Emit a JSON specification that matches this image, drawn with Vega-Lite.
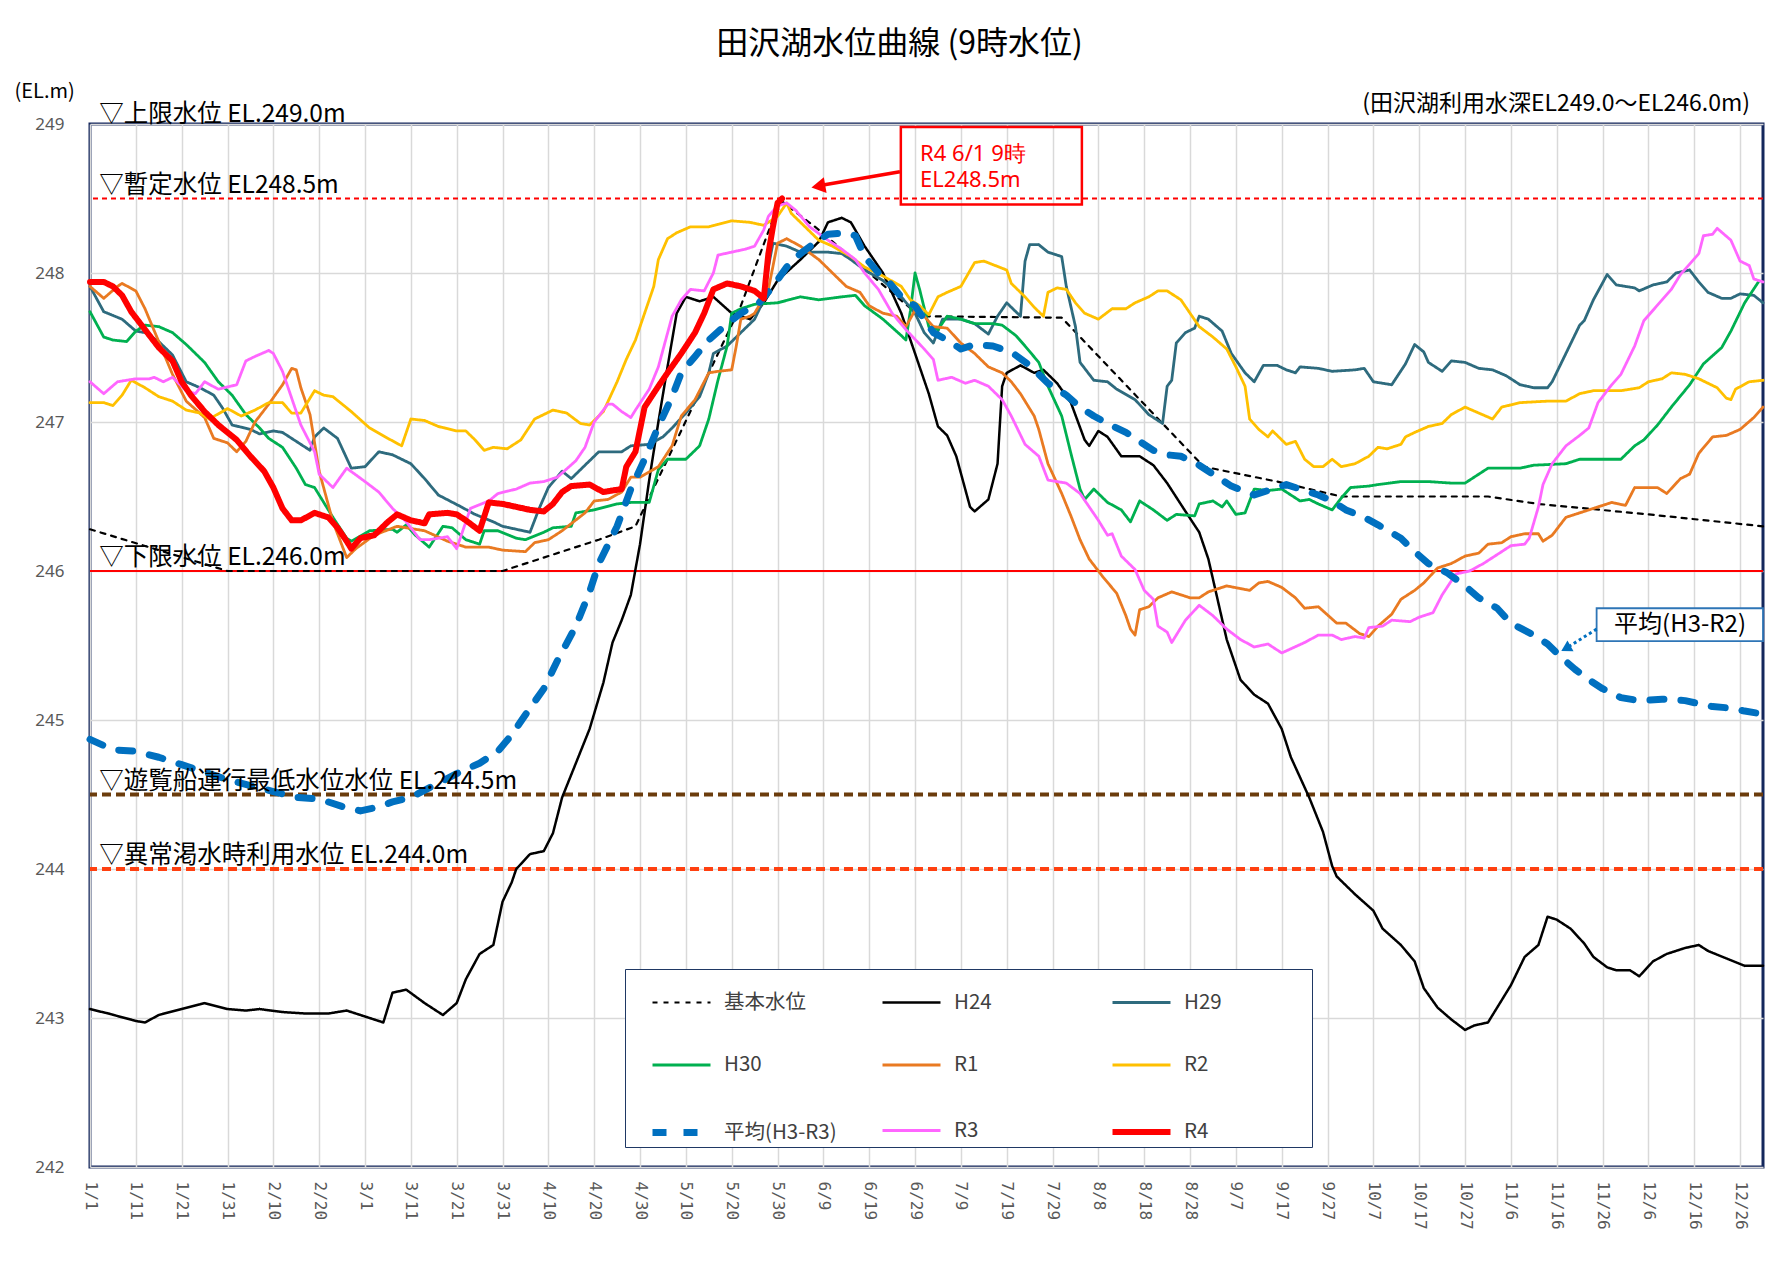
{
"$schema": "https://vega.github.io/schema/vega-lite/v6.json",
"width": 1673,
"height": 1043,
"autosize": {"type": "none"},
"padding": {"left": 90, "top": 124, "right": 23, "bottom": 120},
"background": "white",
"title": {"text": "田沢湖水位曲線 (9時水位)", "anchor": "middle", "frame": "group", "dx": -27, "offset": -5, "baseline": "alphabetic", "fontSize": 32, "fontWeight": "normal", "color": "#000000", "font": "Noto Sans CJK JP"},
"config": {
  "font": "Noto Sans CJK JP",
  "view": {"stroke": "#14275c", "strokeWidth": 3},
  "legend": {"orient": "none", "legendX": 535, "legendY": 845, "direction": "horizontal", "columns": 3, "gridAlign": "all", "symbolType": "stroke", "symbolSize": 3364, "symbolOffset": 24, "labelFontSize": 20.5, "labelColor": "#404040", "labelOffset": 10, "columnPadding": 3, "rowPadding": 18.5, "padding": 0, "strokeColor": "#1f3864", "fillColor": "white", "labelFont": "Noto Sans CJK JP", "labelLimit": 400}
},
"datasets": {
"levels": [
{"series":"基本水位","day":0,"level":246.28},{"series":"基本水位","day":30,"level":246.0},{"series":"基本水位","day":90,"level":246.0},{"series":"基本水位","day":111,"level":246.21},{"series":"基本水位","day":119,"level":246.3},{"series":"基本水位","day":126,"level":246.75},{"series":"基本水位","day":133,"level":247.2},{"series":"基本水位","day":142,"level":247.78},{"series":"基本水位","day":149,"level":248.36},{"series":"基本水位","day":151,"level":248.48},{"series":"基本水位","day":159,"level":248.29},{"series":"基本水位","day":181,"level":247.71},{"series":"基本水位","day":212,"level":247.7},{"series":"基本水位","day":234,"level":246.99},{"series":"基本水位","day":243,"level":246.7},{"series":"基本水位","day":259,"level":246.6},{"series":"基本水位","day":273,"level":246.5},{"series":"基本水位","day":305,"level":246.5},{"series":"基本水位","day":316,"level":246.45},{"series":"基本水位","day":340,"level":246.38},{"series":"基本水位","day":365,"level":246.3},

{"series":"H24","day":0,"level":243.06},{"series":"H24","day":4,"level":243.03},{"series":"H24","day":10,"level":242.98},{"series":"H24","day":12,"level":242.97},{"series":"H24","day":15,"level":243.02},{"series":"H24","day":20,"level":243.06},{"series":"H24","day":25,"level":243.1},{"series":"H24","day":30,"level":243.06},{"series":"H24","day":34,"level":243.05},{"series":"H24","day":37,"level":243.06},{"series":"H24","day":42,"level":243.04},{"series":"H24","day":47,"level":243.03},{"series":"H24","day":52,"level":243.03},{"series":"H24","day":56,"level":243.05},{"series":"H24","day":60,"level":243.01},{"series":"H24","day":64,"level":242.97},{"series":"H24","day":66,"level":243.17},{"series":"H24","day":69,"level":243.19},{"series":"H24","day":73,"level":243.1},{"series":"H24","day":77,"level":243.02},{"series":"H24","day":80,"level":243.1},{"series":"H24","day":82,"level":243.26},{"series":"H24","day":85,"level":243.43},{"series":"H24","day":88,"level":243.49},{"series":"H24","day":90,"level":243.78},{"series":"H24","day":92,"level":243.91},{"series":"H24","day":93,"level":244.0},{"series":"H24","day":96,"level":244.1},{"series":"H24","day":99,"level":244.12},{"series":"H24","day":101,"level":244.24},{"series":"H24","day":103,"level":244.48},{"series":"H24","day":106,"level":244.71},{"series":"H24","day":109,"level":244.94},{"series":"H24","day":112,"level":245.25},{"series":"H24","day":114,"level":245.52},{"series":"H24","day":116,"level":245.67},{"series":"H24","day":118,"level":245.84},{"series":"H24","day":120,"level":246.18},{"series":"H24","day":122,"level":246.61},{"series":"H24","day":124,"level":247.0},{"series":"H24","day":126,"level":247.37},{"series":"H24","day":128,"level":247.73},{"series":"H24","day":130,"level":247.84},{"series":"H24","day":133,"level":247.81},{"series":"H24","day":136,"level":247.84},{"series":"H24","day":140,"level":247.73},{"series":"H24","day":144,"level":247.69},{"series":"H24","day":147,"level":247.8},{"series":"H24","day":150,"level":247.95},{"series":"H24","day":155,"level":248.09},{"series":"H24","day":159,"level":248.21},{"series":"H24","day":161,"level":248.34},{"series":"H24","day":164,"level":248.37},{"series":"H24","day":166,"level":248.34},{"series":"H24","day":169,"level":248.18},{"series":"H24","day":173,"level":248.0},{"series":"H24","day":177,"level":247.73},{"series":"H24","day":180,"level":247.46},{"series":"H24","day":183,"level":247.19},{"series":"H24","day":185,"level":246.97},{"series":"H24","day":187,"level":246.91},{"series":"H24","day":189,"level":246.77},{"series":"H24","day":192,"level":246.43},{"series":"H24","day":193,"level":246.4},{"series":"H24","day":196,"level":246.48},{"series":"H24","day":198,"level":246.72},{"series":"H24","day":199,"level":247.24},{"series":"H24","day":200,"level":247.33},{"series":"H24","day":203,"level":247.38},{"series":"H24","day":206,"level":247.33},{"series":"H24","day":208,"level":247.35},{"series":"H24","day":211,"level":247.26},{"series":"H24","day":214,"level":247.13},{"series":"H24","day":217,"level":246.88},{"series":"H24","day":218,"level":246.84},{"series":"H24","day":220,"level":246.94},{"series":"H24","day":222,"level":246.9},{"series":"H24","day":225,"level":246.77},{"series":"H24","day":229,"level":246.77},{"series":"H24","day":232,"level":246.71},{"series":"H24","day":235,"level":246.59},{"series":"H24","day":239,"level":246.4},{"series":"H24","day":242,"level":246.26},{"series":"H24","day":244,"level":246.08},{"series":"H24","day":246,"level":245.81},{"series":"H24","day":248,"level":245.54},{"series":"H24","day":251,"level":245.27},{"series":"H24","day":254,"level":245.17},{"series":"H24","day":257,"level":245.11},{"series":"H24","day":260,"level":244.94},{"series":"H24","day":262,"level":244.75},{"series":"H24","day":266,"level":244.48},{"series":"H24","day":269,"level":244.25},{"series":"H24","day":271,"level":244.02},{"series":"H24","day":272,"level":243.95},{"series":"H24","day":276,"level":243.83},{"series":"H24","day":280,"level":243.72},{"series":"H24","day":282,"level":243.6},{"series":"H24","day":286,"level":243.49},{"series":"H24","day":289,"level":243.38},{"series":"H24","day":291,"level":243.2},{"series":"H24","day":294,"level":243.07},{"series":"H24","day":297,"level":242.99},{"series":"H24","day":300,"level":242.92},{"series":"H24","day":302,"level":242.95},{"series":"H24","day":305,"level":242.97},{"series":"H24","day":307,"level":243.07},{"series":"H24","day":310,"level":243.22},{"series":"H24","day":313,"level":243.41},{"series":"H24","day":316,"level":243.49},{"series":"H24","day":318,"level":243.68},{"series":"H24","day":320,"level":243.66},{"series":"H24","day":323,"level":243.6},{"series":"H24","day":326,"level":243.5},{"series":"H24","day":328,"level":243.41},{"series":"H24","day":331,"level":243.34},{"series":"H24","day":333,"level":243.32},{"series":"H24","day":336,"level":243.32},{"series":"H24","day":338,"level":243.28},{"series":"H24","day":341,"level":243.38},{"series":"H24","day":344,"level":243.43},{"series":"H24","day":348,"level":243.47},{"series":"H24","day":351,"level":243.49},{"series":"H24","day":353,"level":243.45},{"series":"H24","day":357,"level":243.4},{"series":"H24","day":361,"level":243.35},{"series":"H24","day":365,"level":243.35},

{"series":"H29","day":0,"level":247.91},{"series":"H29","day":3,"level":247.74},{"series":"H29","day":7,"level":247.69},{"series":"H29","day":10,"level":247.61},{"series":"H29","day":12,"level":247.6},{"series":"H29","day":15,"level":247.54},{"series":"H29","day":18,"level":247.45},{"series":"H29","day":21,"level":247.27},{"series":"H29","day":24,"level":247.23},{"series":"H29","day":27,"level":247.18},{"series":"H29","day":29,"level":247.09},{"series":"H29","day":31,"level":246.98},{"series":"H29","day":35,"level":246.95},{"series":"H29","day":37,"level":246.92},{"series":"H29","day":40,"level":246.94},{"series":"H29","day":42,"level":246.93},{"series":"H29","day":45,"level":246.87},{"series":"H29","day":48,"level":246.81},{"series":"H29","day":49,"level":246.9},{"series":"H29","day":51,"level":246.96},{"series":"H29","day":54,"level":246.89},{"series":"H29","day":57,"level":246.69},{"series":"H29","day":60,"level":246.7},{"series":"H29","day":63,"level":246.8},{"series":"H29","day":66,"level":246.78},{"series":"H29","day":70,"level":246.72},{"series":"H29","day":73,"level":246.62},{"series":"H29","day":76,"level":246.51},{"series":"H29","day":81,"level":246.43},{"series":"H29","day":84,"level":246.38},{"series":"H29","day":88,"level":246.33},{"series":"H29","day":90,"level":246.3},{"series":"H29","day":96,"level":246.26},{"series":"H29","day":98,"level":246.42},{"series":"H29","day":100,"level":246.56},{"series":"H29","day":103,"level":246.67},{"series":"H29","day":105,"level":246.62},{"series":"H29","day":109,"level":246.74},{"series":"H29","day":111,"level":246.8},{"series":"H29","day":116,"level":246.8},{"series":"H29","day":118,"level":246.84},{"series":"H29","day":122,"level":246.85},{"series":"H29","day":125,"level":246.9},{"series":"H29","day":127,"level":246.96},{"series":"H29","day":130,"level":247.06},{"series":"H29","day":133,"level":247.17},{"series":"H29","day":135,"level":247.33},{"series":"H29","day":136,"level":247.46},{"series":"H29","day":139,"level":247.51},{"series":"H29","day":142,"level":247.6},{"series":"H29","day":145,"level":247.69},{"series":"H29","day":147,"level":247.82},{"series":"H29","day":148,"level":248.04},{"series":"H29","day":149,"level":248.2},{"series":"H29","day":152,"level":248.18},{"series":"H29","day":155,"level":248.14},{"series":"H29","day":158,"level":248.14},{"series":"H29","day":161,"level":248.14},{"series":"H29","day":164,"level":248.13},{"series":"H29","day":166,"level":248.09},{"series":"H29","day":169,"level":248.02},{"series":"H29","day":173,"level":247.95},{"series":"H29","day":177,"level":247.84},{"series":"H29","day":180,"level":247.73},{"series":"H29","day":182,"level":247.6},{"series":"H29","day":184,"level":247.53},{"series":"H29","day":186,"level":247.69},{"series":"H29","day":190,"level":247.69},{"series":"H29","day":193,"level":247.66},{"series":"H29","day":196,"level":247.59},{"series":"H29","day":198,"level":247.71},{"series":"H29","day":200,"level":247.8},{"series":"H29","day":203,"level":247.71},{"series":"H29","day":204,"level":248.08},{"series":"H29","day":205,"level":248.19},{"series":"H29","day":207,"level":248.19},{"series":"H29","day":209,"level":248.14},{"series":"H29","day":212,"level":248.11},{"series":"H29","day":213,"level":247.91},{"series":"H29","day":215,"level":247.64},{"series":"H29","day":216,"level":247.4},{"series":"H29","day":219,"level":247.28},{"series":"H29","day":222,"level":247.27},{"series":"H29","day":224,"level":247.22},{"series":"H29","day":228,"level":247.15},{"series":"H29","day":231,"level":247.05},{"series":"H29","day":234,"level":246.99},{"series":"H29","day":235,"level":247.24},{"series":"H29","day":236,"level":247.28},{"series":"H29","day":237,"level":247.53},{"series":"H29","day":239,"level":247.6},{"series":"H29","day":241,"level":247.63},{"series":"H29","day":242,"level":247.71},{"series":"H29","day":244,"level":247.69},{"series":"H29","day":247,"level":247.61},{"series":"H29","day":249,"level":247.46},{"series":"H29","day":252,"level":247.33},{"series":"H29","day":254,"level":247.27},{"series":"H29","day":256,"level":247.38},{"series":"H29","day":259,"level":247.38},{"series":"H29","day":261,"level":247.35},{"series":"H29","day":263,"level":247.33},{"series":"H29","day":264,"level":247.37},{"series":"H29","day":268,"level":247.36},{"series":"H29","day":271,"level":247.34},{"series":"H29","day":276,"level":247.35},{"series":"H29","day":278,"level":247.36},{"series":"H29","day":280,"level":247.27},{"series":"H29","day":284,"level":247.25},{"series":"H29","day":287,"level":247.39},{"series":"H29","day":289,"level":247.52},{"series":"H29","day":291,"level":247.47},{"series":"H29","day":292,"level":247.4},{"series":"H29","day":295,"level":247.34},{"series":"H29","day":297,"level":247.41},{"series":"H29","day":300,"level":247.4},{"series":"H29","day":303,"level":247.36},{"series":"H29","day":306,"level":247.35},{"series":"H29","day":309,"level":247.31},{"series":"H29","day":312,"level":247.25},{"series":"H29","day":315,"level":247.23},{"series":"H29","day":318,"level":247.23},{"series":"H29","day":319,"level":247.27},{"series":"H29","day":322,"level":247.46},{"series":"H29","day":325,"level":247.65},{"series":"H29","day":326,"level":247.68},{"series":"H29","day":328,"level":247.82},{"series":"H29","day":331,"level":247.99},{"series":"H29","day":333,"level":247.92},{"series":"H29","day":337,"level":247.9},{"series":"H29","day":338,"level":247.88},{"series":"H29","day":341,"level":247.92},{"series":"H29","day":344,"level":247.94},{"series":"H29","day":346,"level":248.0},{"series":"H29","day":349,"level":248.02},{"series":"H29","day":351,"level":247.94},{"series":"H29","day":353,"level":247.87},{"series":"H29","day":356,"level":247.83},{"series":"H29","day":358,"level":247.83},{"series":"H29","day":360,"level":247.86},{"series":"H29","day":363,"level":247.85},{"series":"H29","day":365,"level":247.8},

{"series":"H30","day":0,"level":247.74},{"series":"H30","day":3,"level":247.57},{"series":"H30","day":5,"level":247.55},{"series":"H30","day":8,"level":247.54},{"series":"H30","day":10,"level":247.61},{"series":"H30","day":12,"level":247.65},{"series":"H30","day":15,"level":247.64},{"series":"H30","day":18,"level":247.6},{"series":"H30","day":21,"level":247.52},{"series":"H30","day":25,"level":247.4},{"series":"H30","day":28,"level":247.27},{"series":"H30","day":31,"level":247.18},{"series":"H30","day":34,"level":247.05},{"series":"H30","day":37,"level":246.96},{"series":"H30","day":39,"level":246.89},{"series":"H30","day":42,"level":246.83},{"series":"H30","day":45,"level":246.69},{"series":"H30","day":47,"level":246.58},{"series":"H30","day":49,"level":246.56},{"series":"H30","day":53,"level":246.36},{"series":"H30","day":56,"level":246.22},{"series":"H30","day":57,"level":246.2},{"series":"H30","day":61,"level":246.27},{"series":"H30","day":66,"level":246.28},{"series":"H30","day":67,"level":246.26},{"series":"H30","day":69,"level":246.31},{"series":"H30","day":71,"level":246.24},{"series":"H30","day":74,"level":246.16},{"series":"H30","day":77,"level":246.3},{"series":"H30","day":79,"level":246.29},{"series":"H30","day":82,"level":246.21},{"series":"H30","day":85,"level":246.18},{"series":"H30","day":86,"level":246.27},{"series":"H30","day":89,"level":246.27},{"series":"H30","day":93,"level":246.22},{"series":"H30","day":95,"level":246.21},{"series":"H30","day":99,"level":246.26},{"series":"H30","day":101,"level":246.29},{"series":"H30","day":105,"level":246.3},{"series":"H30","day":106,"level":246.39},{"series":"H30","day":110,"level":246.41},{"series":"H30","day":115,"level":246.45},{"series":"H30","day":118,"level":246.46},{"series":"H30","day":122,"level":246.46},{"series":"H30","day":124,"level":246.68},{"series":"H30","day":126,"level":246.75},{"series":"H30","day":130,"level":246.75},{"series":"H30","day":133,"level":246.84},{"series":"H30","day":135,"level":247.02},{"series":"H30","day":137,"level":247.28},{"series":"H30","day":139,"level":247.51},{"series":"H30","day":140,"level":247.73},{"series":"H30","day":142,"level":247.76},{"series":"H30","day":145,"level":247.79},{"series":"H30","day":150,"level":247.8},{"series":"H30","day":155,"level":247.84},{"series":"H30","day":159,"level":247.82},{"series":"H30","day":164,"level":247.84},{"series":"H30","day":167,"level":247.85},{"series":"H30","day":169,"level":247.78},{"series":"H30","day":173,"level":247.69},{"series":"H30","day":177,"level":247.58},{"series":"H30","day":178,"level":247.55},{"series":"H30","day":179,"level":247.75},{"series":"H30","day":180,"level":248.0},{"series":"H30","day":181,"level":247.89},{"series":"H30","day":183,"level":247.64},{"series":"H30","day":185,"level":247.62},{"series":"H30","day":187,"level":247.71},{"series":"H30","day":190,"level":247.69},{"series":"H30","day":193,"level":247.66},{"series":"H30","day":197,"level":247.66},{"series":"H30","day":199,"level":247.65},{"series":"H30","day":202,"level":247.58},{"series":"H30","day":204,"level":247.51},{"series":"H30","day":207,"level":247.4},{"series":"H30","day":209,"level":247.24},{"series":"H30","day":212,"level":247.04},{"series":"H30","day":214,"level":246.79},{"series":"H30","day":216,"level":246.55},{"series":"H30","day":217,"level":246.48},{"series":"H30","day":219,"level":246.55},{"series":"H30","day":222,"level":246.46},{"series":"H30","day":225,"level":246.41},{"series":"H30","day":227,"level":246.33},{"series":"H30","day":229,"level":246.47},{"series":"H30","day":232,"level":246.41},{"series":"H30","day":235,"level":246.34},{"series":"H30","day":237,"level":246.38},{"series":"H30","day":241,"level":246.37},{"series":"H30","day":242,"level":246.45},{"series":"H30","day":245,"level":246.47},{"series":"H30","day":247,"level":246.43},{"series":"H30","day":248,"level":246.47},{"series":"H30","day":250,"level":246.38},{"series":"H30","day":252,"level":246.39},{"series":"H30","day":254,"level":246.55},{"series":"H30","day":257,"level":246.54},{"series":"H30","day":260,"level":246.55},{"series":"H30","day":264,"level":246.47},{"series":"H30","day":266,"level":246.48},{"series":"H30","day":268,"level":246.45},{"series":"H30","day":271,"level":246.41},{"series":"H30","day":273,"level":246.49},{"series":"H30","day":275,"level":246.56},{"series":"H30","day":279,"level":246.57},{"series":"H30","day":281,"level":246.58},{"series":"H30","day":286,"level":246.6},{"series":"H30","day":292,"level":246.6},{"series":"H30","day":297,"level":246.59},{"series":"H30","day":300,"level":246.59},{"series":"H30","day":303,"level":246.65},{"series":"H30","day":305,"level":246.69},{"series":"H30","day":312,"level":246.69},{"series":"H30","day":315,"level":246.71},{"series":"H30","day":322,"level":246.72},{"series":"H30","day":325,"level":246.75},{"series":"H30","day":334,"level":246.75},{"series":"H30","day":337,"level":246.84},{"series":"H30","day":339,"level":246.88},{"series":"H30","day":342,"level":246.98},{"series":"H30","day":345,"level":247.1},{"series":"H30","day":349,"level":247.25},{"series":"H30","day":352,"level":247.39},{"series":"H30","day":356,"level":247.5},{"series":"H30","day":358,"level":247.61},{"series":"H30","day":361,"level":247.8},{"series":"H30","day":364,"level":247.94},

{"series":"R1","day":0,"level":247.91},{"series":"R1","day":3,"level":247.83},{"series":"R1","day":6,"level":247.91},{"series":"R1","day":7,"level":247.93},{"series":"R1","day":10,"level":247.88},{"series":"R1","day":12,"level":247.76},{"series":"R1","day":15,"level":247.54},{"series":"R1","day":18,"level":247.32},{"series":"R1","day":21,"level":247.14},{"series":"R1","day":25,"level":247.03},{"series":"R1","day":27,"level":246.89},{"series":"R1","day":30,"level":246.86},{"series":"R1","day":32,"level":246.8},{"series":"R1","day":34,"level":246.87},{"series":"R1","day":36,"level":247.0},{"series":"R1","day":39,"level":247.12},{"series":"R1","day":42,"level":247.25},{"series":"R1","day":44,"level":247.36},{"series":"R1","day":45,"level":247.35},{"series":"R1","day":46,"level":247.23},{"series":"R1","day":48,"level":247.05},{"series":"R1","day":50,"level":246.67},{"series":"R1","day":53,"level":246.33},{"series":"R1","day":56,"level":246.09},{"series":"R1","day":58,"level":246.15},{"series":"R1","day":62,"level":246.24},{"series":"R1","day":67,"level":246.3},{"series":"R1","day":73,"level":246.27},{"series":"R1","day":78,"level":246.2},{"series":"R1","day":82,"level":246.16},{"series":"R1","day":87,"level":246.16},{"series":"R1","day":90,"level":246.14},{"series":"R1","day":95,"level":246.13},{"series":"R1","day":97,"level":246.19},{"series":"R1","day":100,"level":246.21},{"series":"R1","day":103,"level":246.27},{"series":"R1","day":108,"level":246.39},{"series":"R1","day":110,"level":246.47},{"series":"R1","day":113,"level":246.48},{"series":"R1","day":116,"level":246.53},{"series":"R1","day":118,"level":246.63},{"series":"R1","day":120,"level":246.63},{"series":"R1","day":124,"level":246.7},{"series":"R1","day":127,"level":246.84},{"series":"R1","day":129,"level":247.04},{"series":"R1","day":132,"level":247.15},{"series":"R1","day":135,"level":247.33},{"series":"R1","day":137,"level":247.34},{"series":"R1","day":140,"level":247.35},{"series":"R1","day":141,"level":247.51},{"series":"R1","day":142,"level":247.69},{"series":"R1","day":144,"level":247.71},{"series":"R1","day":145,"level":247.73},{"series":"R1","day":148,"level":247.89},{"series":"R1","day":150,"level":248.2},{"series":"R1","day":152,"level":248.23},{"series":"R1","day":155,"level":248.18},{"series":"R1","day":159,"level":248.09},{"series":"R1","day":162,"level":248.0},{"series":"R1","day":165,"level":247.91},{"series":"R1","day":168,"level":247.87},{"series":"R1","day":170,"level":247.78},{"series":"R1","day":173,"level":247.73},{"series":"R1","day":176,"level":247.71},{"series":"R1","day":178,"level":247.64},{"series":"R1","day":180,"level":247.75},{"series":"R1","day":182,"level":247.71},{"series":"R1","day":184,"level":247.64},{"series":"R1","day":187,"level":247.63},{"series":"R1","day":190,"level":247.53},{"series":"R1","day":193,"level":247.46},{"series":"R1","day":196,"level":247.37},{"series":"R1","day":199,"level":247.33},{"series":"R1","day":201,"level":247.27},{"series":"R1","day":203,"level":247.19},{"series":"R1","day":206,"level":247.04},{"series":"R1","day":207,"level":246.95},{"series":"R1","day":209,"level":246.72},{"series":"R1","day":212,"level":246.52},{"series":"R1","day":214,"level":246.37},{"series":"R1","day":216,"level":246.21},{"series":"R1","day":218,"level":246.08},{"series":"R1","day":221,"level":245.96},{"series":"R1","day":224,"level":245.85},{"series":"R1","day":226,"level":245.7},{"series":"R1","day":227,"level":245.61},{"series":"R1","day":228,"level":245.57},{"series":"R1","day":229,"level":245.74},{"series":"R1","day":231,"level":245.76},{"series":"R1","day":233,"level":245.82},{"series":"R1","day":236,"level":245.86},{"series":"R1","day":240,"level":245.82},{"series":"R1","day":242,"level":245.82},{"series":"R1","day":244,"level":245.86},{"series":"R1","day":248,"level":245.9},{"series":"R1","day":253,"level":245.87},{"series":"R1","day":255,"level":245.92},{"series":"R1","day":257,"level":245.93},{"series":"R1","day":260,"level":245.89},{"series":"R1","day":263,"level":245.82},{"series":"R1","day":265,"level":245.75},{"series":"R1","day":268,"level":245.76},{"series":"R1","day":272,"level":245.65},{"series":"R1","day":274,"level":245.65},{"series":"R1","day":277,"level":245.58},{"series":"R1","day":279,"level":245.56},{"series":"R1","day":281,"level":245.63},{"series":"R1","day":284,"level":245.71},{"series":"R1","day":286,"level":245.81},{"series":"R1","day":289,"level":245.87},{"series":"R1","day":291,"level":245.92},{"series":"R1","day":294,"level":246.02},{"series":"R1","day":297,"level":246.05},{"series":"R1","day":300,"level":246.1},{"series":"R1","day":303,"level":246.12},{"series":"R1","day":305,"level":246.18},{"series":"R1","day":308,"level":246.19},{"series":"R1","day":310,"level":246.23},{"series":"R1","day":313,"level":246.25},{"series":"R1","day":316,"level":246.25},{"series":"R1","day":317,"level":246.2},{"series":"R1","day":319,"level":246.24},{"series":"R1","day":322,"level":246.36},{"series":"R1","day":325,"level":246.39},{"series":"R1","day":329,"level":246.43},{"series":"R1","day":332,"level":246.46},{"series":"R1","day":335,"level":246.44},{"series":"R1","day":337,"level":246.56},{"series":"R1","day":342,"level":246.56},{"series":"R1","day":344,"level":246.52},{"series":"R1","day":347,"level":246.62},{"series":"R1","day":349,"level":246.65},{"series":"R1","day":351,"level":246.79},{"series":"R1","day":354,"level":246.9},{"series":"R1","day":357,"level":246.91},{"series":"R1","day":360,"level":246.95},{"series":"R1","day":363,"level":247.03},{"series":"R1","day":365,"level":247.1},

{"series":"R2","day":0,"level":247.13},{"series":"R2","day":3,"level":247.13},{"series":"R2","day":5,"level":247.11},{"series":"R2","day":7,"level":247.18},{"series":"R2","day":9,"level":247.28},{"series":"R2","day":12,"level":247.23},{"series":"R2","day":15,"level":247.17},{"series":"R2","day":18,"level":247.14},{"series":"R2","day":21,"level":247.08},{"series":"R2","day":24,"level":247.06},{"series":"R2","day":26,"level":247.02},{"series":"R2","day":30,"level":247.09},{"series":"R2","day":33,"level":247.04},{"series":"R2","day":36,"level":247.08},{"series":"R2","day":39,"level":247.13},{"series":"R2","day":42,"level":247.13},{"series":"R2","day":44,"level":247.06},{"series":"R2","day":46,"level":247.06},{"series":"R2","day":49,"level":247.21},{"series":"R2","day":51,"level":247.18},{"series":"R2","day":53,"level":247.17},{"series":"R2","day":57,"level":247.07},{"series":"R2","day":61,"level":246.96},{"series":"R2","day":65,"level":246.89},{"series":"R2","day":68,"level":246.84},{"series":"R2","day":70,"level":247.02},{"series":"R2","day":73,"level":247.01},{"series":"R2","day":76,"level":246.97},{"series":"R2","day":80,"level":246.94},{"series":"R2","day":82,"level":246.94},{"series":"R2","day":84,"level":246.88},{"series":"R2","day":86,"level":246.81},{"series":"R2","day":88,"level":246.83},{"series":"R2","day":91,"level":246.82},{"series":"R2","day":94,"level":246.88},{"series":"R2","day":97,"level":247.02},{"series":"R2","day":101,"level":247.08},{"series":"R2","day":104,"level":247.06},{"series":"R2","day":107,"level":246.99},{"series":"R2","day":109,"level":246.98},{"series":"R2","day":112,"level":247.07},{"series":"R2","day":115,"level":247.27},{"series":"R2","day":117,"level":247.42},{"series":"R2","day":119,"level":247.55},{"series":"R2","day":121,"level":247.73},{"series":"R2","day":123,"level":247.91},{"series":"R2","day":124,"level":248.09},{"series":"R2","day":126,"level":248.23},{"series":"R2","day":128,"level":248.27},{"series":"R2","day":131,"level":248.31},{"series":"R2","day":135,"level":248.31},{"series":"R2","day":140,"level":248.35},{"series":"R2","day":144,"level":248.34},{"series":"R2","day":147,"level":248.32},{"series":"R2","day":150,"level":248.38},{"series":"R2","day":152,"level":248.47},{"series":"R2","day":153,"level":248.4},{"series":"R2","day":156,"level":248.31},{"series":"R2","day":159,"level":248.22},{"series":"R2","day":162,"level":248.18},{"series":"R2","day":166,"level":248.11},{"series":"R2","day":169,"level":248.04},{"series":"R2","day":173,"level":247.98},{"series":"R2","day":177,"level":247.91},{"series":"R2","day":179,"level":247.82},{"series":"R2","day":181,"level":247.78},{"series":"R2","day":183,"level":247.72},{"series":"R2","day":185,"level":247.84},{"series":"R2","day":187,"level":247.87},{"series":"R2","day":190,"level":247.91},{"series":"R2","day":193,"level":248.07},{"series":"R2","day":195,"level":248.08},{"series":"R2","day":200,"level":248.02},{"series":"R2","day":201,"level":247.93},{"series":"R2","day":204,"level":247.84},{"series":"R2","day":206,"level":247.77},{"series":"R2","day":208,"level":247.71},{"series":"R2","day":209,"level":247.87},{"series":"R2","day":211,"level":247.9},{"series":"R2","day":213,"level":247.89},{"series":"R2","day":215,"level":247.8},{"series":"R2","day":217,"level":247.73},{"series":"R2","day":220,"level":247.69},{"series":"R2","day":223,"level":247.76},{"series":"R2","day":226,"level":247.76},{"series":"R2","day":228,"level":247.8},{"series":"R2","day":231,"level":247.84},{"series":"R2","day":233,"level":247.88},{"series":"R2","day":235,"level":247.88},{"series":"R2","day":238,"level":247.82},{"series":"R2","day":240,"level":247.73},{"series":"R2","day":242,"level":247.64},{"series":"R2","day":245,"level":247.57},{"series":"R2","day":248,"level":247.49},{"series":"R2","day":250,"level":247.37},{"series":"R2","day":252,"level":247.24},{"series":"R2","day":253,"level":247.02},{"series":"R2","day":255,"level":246.95},{"series":"R2","day":257,"level":246.9},{"series":"R2","day":258,"level":246.94},{"series":"R2","day":261,"level":246.85},{"series":"R2","day":263,"level":246.87},{"series":"R2","day":265,"level":246.75},{"series":"R2","day":267,"level":246.7},{"series":"R2","day":269,"level":246.7},{"series":"R2","day":271,"level":246.75},{"series":"R2","day":273,"level":246.7},{"series":"R2","day":276,"level":246.72},{"series":"R2","day":279,"level":246.77},{"series":"R2","day":281,"level":246.83},{"series":"R2","day":283,"level":246.82},{"series":"R2","day":286,"level":246.85},{"series":"R2","day":287,"level":246.9},{"series":"R2","day":289,"level":246.93},{"series":"R2","day":292,"level":246.97},{"series":"R2","day":295,"level":246.99},{"series":"R2","day":297,"level":247.05},{"series":"R2","day":300,"level":247.1},{"series":"R2","day":303,"level":247.06},{"series":"R2","day":306,"level":247.02},{"series":"R2","day":308,"level":247.1},{"series":"R2","day":312,"level":247.13},{"series":"R2","day":318,"level":247.14},{"series":"R2","day":322,"level":247.14},{"series":"R2","day":325,"level":247.19},{"series":"R2","day":328,"level":247.21},{"series":"R2","day":334,"level":247.21},{"series":"R2","day":338,"level":247.23},{"series":"R2","day":340,"level":247.27},{"series":"R2","day":343,"level":247.29},{"series":"R2","day":345,"level":247.33},{"series":"R2","day":348,"level":247.32},{"series":"R2","day":351,"level":247.29},{"series":"R2","day":355,"level":247.23},{"series":"R2","day":357,"level":247.16},{"series":"R2","day":358,"level":247.15},{"series":"R2","day":359,"level":247.22},{"series":"R2","day":362,"level":247.27},{"series":"R2","day":365,"level":247.28},

{"series":"R3","day":0,"level":247.27},{"series":"R3","day":3,"level":247.19},{"series":"R3","day":6,"level":247.27},{"series":"R3","day":10,"level":247.29},{"series":"R3","day":13,"level":247.29},{"series":"R3","day":14,"level":247.3},{"series":"R3","day":16,"level":247.27},{"series":"R3","day":18,"level":247.3},{"series":"R3","day":21,"level":247.21},{"series":"R3","day":23,"level":247.19},{"series":"R3","day":25,"level":247.27},{"series":"R3","day":28,"level":247.22},{"series":"R3","day":32,"level":247.25},{"series":"R3","day":34,"level":247.41},{"series":"R3","day":36,"level":247.44},{"series":"R3","day":39,"level":247.48},{"series":"R3","day":40,"level":247.46},{"series":"R3","day":42,"level":247.34},{"series":"R3","day":44,"level":247.16},{"series":"R3","day":46,"level":246.98},{"series":"R3","day":49,"level":246.8},{"series":"R3","day":50,"level":246.65},{"series":"R3","day":53,"level":246.56},{"series":"R3","day":56,"level":246.69},{"series":"R3","day":60,"level":246.6},{"series":"R3","day":63,"level":246.53},{"series":"R3","day":66,"level":246.42},{"series":"R3","day":69,"level":246.33},{"series":"R3","day":72,"level":246.21},{"series":"R3","day":74,"level":246.21},{"series":"R3","day":78,"level":246.23},{"series":"R3","day":80,"level":246.15},{"series":"R3","day":83,"level":246.42},{"series":"R3","day":87,"level":246.47},{"series":"R3","day":89,"level":246.52},{"series":"R3","day":93,"level":246.55},{"series":"R3","day":96,"level":246.59},{"series":"R3","day":99,"level":246.6},{"series":"R3","day":102,"level":246.63},{"series":"R3","day":106,"level":246.74},{"series":"R3","day":108,"level":246.83},{"series":"R3","day":110,"level":247.0},{"series":"R3","day":113,"level":247.12},{"series":"R3","day":114,"level":247.12},{"series":"R3","day":116,"level":247.07},{"series":"R3","day":118,"level":247.03},{"series":"R3","day":119,"level":247.08},{"series":"R3","day":122,"level":247.22},{"series":"R3","day":124,"level":247.37},{"series":"R3","day":127,"level":247.71},{"series":"R3","day":129,"level":247.82},{"series":"R3","day":131,"level":247.89},{"series":"R3","day":134,"level":247.88},{"series":"R3","day":136,"level":248.0},{"series":"R3","day":137,"level":248.12},{"series":"R3","day":140,"level":248.14},{"series":"R3","day":143,"level":248.16},{"series":"R3","day":145,"level":248.18},{"series":"R3","day":147,"level":248.29},{"series":"R3","day":148,"level":248.38},{"series":"R3","day":150,"level":248.45},{"series":"R3","day":152,"level":248.47},{"series":"R3","day":154,"level":248.42},{"series":"R3","day":157,"level":248.31},{"series":"R3","day":161,"level":248.22},{"series":"R3","day":164,"level":248.16},{"series":"R3","day":167,"level":248.09},{"series":"R3","day":169,"level":248.0},{"series":"R3","day":172,"level":247.89},{"series":"R3","day":175,"level":247.73},{"series":"R3","day":178,"level":247.62},{"series":"R3","day":182,"level":247.49},{"series":"R3","day":184,"level":247.42},{"series":"R3","day":185,"level":247.28},{"series":"R3","day":188,"level":247.3},{"series":"R3","day":191,"level":247.26},{"series":"R3","day":193,"level":247.28},{"series":"R3","day":196,"level":247.24},{"series":"R3","day":199,"level":247.15},{"series":"R3","day":201,"level":247.04},{"series":"R3","day":204,"level":246.85},{"series":"R3","day":207,"level":246.77},{"series":"R3","day":209,"level":246.61},{"series":"R3","day":213,"level":246.59},{"series":"R3","day":216,"level":246.52},{"series":"R3","day":218,"level":246.43},{"series":"R3","day":220,"level":246.34},{"series":"R3","day":222,"level":246.24},{"series":"R3","day":223,"level":246.25},{"series":"R3","day":225,"level":246.1},{"series":"R3","day":228,"level":246.01},{"series":"R3","day":230,"level":245.87},{"series":"R3","day":232,"level":245.81},{"series":"R3","day":233,"level":245.63},{"series":"R3","day":235,"level":245.59},{"series":"R3","day":236,"level":245.52},{"series":"R3","day":239,"level":245.67},{"series":"R3","day":242,"level":245.77},{"series":"R3","day":245,"level":245.7},{"series":"R3","day":248,"level":245.61},{"series":"R3","day":251,"level":245.54},{"series":"R3","day":254,"level":245.49},{"series":"R3","day":257,"level":245.51},{"series":"R3","day":260,"level":245.45},{"series":"R3","day":265,"level":245.52},{"series":"R3","day":268,"level":245.57},{"series":"R3","day":271,"level":245.57},{"series":"R3","day":273,"level":245.54},{"series":"R3","day":276,"level":245.56},{"series":"R3","day":278,"level":245.55},{"series":"R3","day":279,"level":245.62},{"series":"R3","day":282,"level":245.63},{"series":"R3","day":284,"level":245.67},{"series":"R3","day":288,"level":245.66},{"series":"R3","day":290,"level":245.69},{"series":"R3","day":293,"level":245.72},{"series":"R3","day":295,"level":245.84},{"series":"R3","day":298,"level":245.98},{"series":"R3","day":301,"level":246.0},{"series":"R3","day":304,"level":246.05},{"series":"R3","day":307,"level":246.11},{"series":"R3","day":310,"level":246.17},{"series":"R3","day":313,"level":246.18},{"series":"R3","day":314,"level":246.22},{"series":"R3","day":316,"level":246.43},{"series":"R3","day":317,"level":246.58},{"series":"R3","day":319,"level":246.72},{"series":"R3","day":322,"level":246.84},{"series":"R3","day":325,"level":246.91},{"series":"R3","day":327,"level":246.96},{"series":"R3","day":329,"level":247.13},{"series":"R3","day":332,"level":247.25},{"series":"R3","day":334,"level":247.32},{"series":"R3","day":337,"level":247.51},{"series":"R3","day":339,"level":247.68},{"series":"R3","day":341,"level":247.75},{"series":"R3","day":343,"level":247.82},{"series":"R3","day":345,"level":247.89},{"series":"R3","day":347,"level":247.99},{"series":"R3","day":351,"level":248.13},{"series":"R3","day":352,"level":248.25},{"series":"R3","day":354,"level":248.26},{"series":"R3","day":355,"level":248.3},{"series":"R3","day":358,"level":248.22},{"series":"R3","day":360,"level":248.08},{"series":"R3","day":362,"level":248.05},{"series":"R3","day":363,"level":247.96},{"series":"R3","day":365,"level":247.94},

{"series":"平均(H3-R3)","day":0,"level":244.87},{"series":"平均(H3-R3)","day":5,"level":244.8},{"series":"平均(H3-R3)","day":10,"level":244.79},{"series":"平均(H3-R3)","day":15,"level":244.75},{"series":"平均(H3-R3)","day":20,"level":244.7},{"series":"平均(H3-R3)","day":25,"level":244.65},{"series":"平均(H3-R3)","day":30,"level":244.6},{"series":"平均(H3-R3)","day":35,"level":244.56},{"series":"平均(H3-R3)","day":40,"level":244.52},{"series":"平均(H3-R3)","day":45,"level":244.48},{"series":"平均(H3-R3)","day":50,"level":244.47},{"series":"平均(H3-R3)","day":55,"level":244.42},{"series":"平均(H3-R3)","day":59,"level":244.39},{"series":"平均(H3-R3)","day":62,"level":244.41},{"series":"平均(H3-R3)","day":66,"level":244.45},{"series":"平均(H3-R3)","day":70,"level":244.48},{"series":"平均(H3-R3)","day":75,"level":244.56},{"series":"平均(H3-R3)","day":80,"level":244.64},{"series":"平均(H3-R3)","day":85,"level":244.71},{"series":"平均(H3-R3)","day":89,"level":244.79},{"series":"平均(H3-R3)","day":92,"level":244.9},{"series":"平均(H3-R3)","day":96,"level":245.08},{"series":"平均(H3-R3)","day":99,"level":245.21},{"series":"平均(H3-R3)","day":102,"level":245.4},{"series":"平均(H3-R3)","day":106,"level":245.63},{"series":"平均(H3-R3)","day":109,"level":245.86},{"series":"平均(H3-R3)","day":111,"level":246.05},{"series":"平均(H3-R3)","day":115,"level":246.3},{"series":"平均(H3-R3)","day":118,"level":246.55},{"series":"平均(H3-R3)","day":121,"level":246.75},{"series":"平均(H3-R3)","day":124,"level":246.97},{"series":"平均(H3-R3)","day":127,"level":247.17},{"series":"平均(H3-R3)","day":129,"level":247.33},{"series":"平均(H3-R3)","day":132,"level":247.44},{"series":"平均(H3-R3)","day":135,"level":247.55},{"series":"平均(H3-R3)","day":139,"level":247.66},{"series":"平均(H3-R3)","day":142,"level":247.73},{"series":"平均(H3-R3)","day":146,"level":247.8},{"series":"平均(H3-R3)","day":149,"level":247.91},{"series":"平均(H3-R3)","day":152,"level":248.04},{"series":"平均(H3-R3)","day":155,"level":248.13},{"series":"平均(H3-R3)","day":158,"level":248.2},{"series":"平均(H3-R3)","day":161,"level":248.26},{"series":"平均(H3-R3)","day":165,"level":248.27},{"series":"平均(H3-R3)","day":167,"level":248.25},{"series":"平均(H3-R3)","day":169,"level":248.11},{"series":"平均(H3-R3)","day":172,"level":248.0},{"series":"平均(H3-R3)","day":174,"level":247.95},{"series":"平均(H3-R3)","day":177,"level":247.84},{"series":"平均(H3-R3)","day":180,"level":247.78},{"series":"平均(H3-R3)","day":182,"level":247.69},{"series":"平均(H3-R3)","day":184,"level":247.6},{"series":"平均(H3-R3)","day":187,"level":247.55},{"series":"平均(H3-R3)","day":190,"level":247.49},{"series":"平均(H3-R3)","day":193,"level":247.52},{"series":"平均(H3-R3)","day":197,"level":247.51},{"series":"平均(H3-R3)","day":201,"level":247.47},{"series":"平均(H3-R3)","day":205,"level":247.38},{"series":"平均(H3-R3)","day":209,"level":247.26},{"series":"平均(H3-R3)","day":213,"level":247.18},{"series":"平均(H3-R3)","day":216,"level":247.1},{"series":"平均(H3-R3)","day":219,"level":247.04},{"series":"平均(H3-R3)","day":222,"level":246.99},{"series":"平均(H3-R3)","day":226,"level":246.93},{"series":"平均(H3-R3)","day":229,"level":246.87},{"series":"平均(H3-R3)","day":232,"level":246.81},{"series":"平均(H3-R3)","day":235,"level":246.78},{"series":"平均(H3-R3)","day":238,"level":246.77},{"series":"平均(H3-R3)","day":242,"level":246.71},{"series":"平均(H3-R3)","day":246,"level":246.63},{"series":"平均(H3-R3)","day":249,"level":246.57},{"series":"平均(H3-R3)","day":254,"level":246.51},{"series":"平均(H3-R3)","day":258,"level":246.55},{"series":"平均(H3-R3)","day":261,"level":246.58},{"series":"平均(H3-R3)","day":264,"level":246.55},{"series":"平均(H3-R3)","day":268,"level":246.51},{"series":"平均(H3-R3)","day":271,"level":246.47},{"series":"平均(H3-R3)","day":274,"level":246.41},{"series":"平均(H3-R3)","day":278,"level":246.36},{"series":"平均(H3-R3)","day":281,"level":246.31},{"series":"平均(H3-R3)","day":286,"level":246.22},{"series":"平均(H3-R3)","day":289,"level":246.13},{"series":"平均(H3-R3)","day":292,"level":246.05},{"series":"平均(H3-R3)","day":296,"level":245.99},{"series":"平均(H3-R3)","day":300,"level":245.9},{"series":"平均(H3-R3)","day":303,"level":245.82},{"series":"平均(H3-R3)","day":307,"level":245.75},{"series":"平均(H3-R3)","day":310,"level":245.65},{"series":"平均(H3-R3)","day":315,"level":245.57},{"series":"平均(H3-R3)","day":318,"level":245.51},{"series":"平均(H3-R3)","day":321,"level":245.42},{"series":"平均(H3-R3)","day":324,"level":245.34},{"series":"平均(H3-R3)","day":327,"level":245.27},{"series":"平均(H3-R3)","day":330,"level":245.21},{"series":"平均(H3-R3)","day":334,"level":245.15},{"series":"平均(H3-R3)","day":338,"level":245.13},{"series":"平均(H3-R3)","day":343,"level":245.14},{"series":"平均(H3-R3)","day":348,"level":245.13},{"series":"平均(H3-R3)","day":354,"level":245.09},{"series":"平均(H3-R3)","day":358,"level":245.08},{"series":"平均(H3-R3)","day":361,"level":245.06},{"series":"平均(H3-R3)","day":365,"level":245.04},

{"series":"R4","day":0,"level":247.94},{"series":"R4","day":3,"level":247.94},{"series":"R4","day":5,"level":247.91},{"series":"R4","day":7,"level":247.85},{"series":"R4","day":9,"level":247.74},{"series":"R4","day":12,"level":247.62},{"series":"R4","day":15,"level":247.5},{"series":"R4","day":18,"level":247.41},{"series":"R4","day":20,"level":247.27},{"series":"R4","day":22,"level":247.18},{"series":"R4","day":25,"level":247.07},{"series":"R4","day":28,"level":246.98},{"series":"R4","day":32,"level":246.88},{"series":"R4","day":35,"level":246.77},{"series":"R4","day":38,"level":246.67},{"series":"R4","day":40,"level":246.56},{"series":"R4","day":42,"level":246.42},{"series":"R4","day":44,"level":246.34},{"series":"R4","day":46,"level":246.34},{"series":"R4","day":49,"level":246.39},{"series":"R4","day":52,"level":246.36},{"series":"R4","day":54,"level":246.29},{"series":"R4","day":56,"level":246.2},{"series":"R4","day":57,"level":246.15},{"series":"R4","day":59,"level":246.22},{"series":"R4","day":62,"level":246.24},{"series":"R4","day":65,"level":246.33},{"series":"R4","day":67,"level":246.38},{"series":"R4","day":70,"level":246.34},{"series":"R4","day":73,"level":246.32},{"series":"R4","day":74,"level":246.38},{"series":"R4","day":78,"level":246.39},{"series":"R4","day":80,"level":246.38},{"series":"R4","day":82,"level":246.34},{"series":"R4","day":85,"level":246.27},{"series":"R4","day":87,"level":246.46},{"series":"R4","day":90,"level":246.45},{"series":"R4","day":93,"level":246.43},{"series":"R4","day":96,"level":246.41},{"series":"R4","day":99,"level":246.4},{"series":"R4","day":101,"level":246.45},{"series":"R4","day":103,"level":246.53},{"series":"R4","day":105,"level":246.57},{"series":"R4","day":109,"level":246.58},{"series":"R4","day":112,"level":246.53},{"series":"R4","day":116,"level":246.55},{"series":"R4","day":117,"level":246.7},{"series":"R4","day":119,"level":246.8},{"series":"R4","day":120,"level":246.95},{"series":"R4","day":121,"level":247.1},{"series":"R4","day":124,"level":247.24},{"series":"R4","day":126,"level":247.33},{"series":"R4","day":129,"level":247.46},{"series":"R4","day":132,"level":247.6},{"series":"R4","day":134,"level":247.73},{"series":"R4","day":136,"level":247.89},{"series":"R4","day":139,"level":247.93},{"series":"R4","day":142,"level":247.91},{"series":"R4","day":145,"level":247.88},{"series":"R4","day":147,"level":247.83},{"series":"R4","day":148,"level":248.13},{"series":"R4","day":149,"level":248.31},{"series":"R4","day":150,"level":248.47},{"series":"R4","day":151,"level":248.5}
]
},
"layer": [
{"data": {"values": [{}]},
 "mark": {"type": "rule", "color": "#ff0000", "strokeWidth": 2, "strokeDash": [5, 4]},
 "encoding": {"y": {"datum": 248.5, "type": "quantitative", "scale": {"domain": [242, 249], "nice": false, "zero": false}}}},
{"data": {"values": [{}]},
 "mark": {"type": "rule", "color": "#ff0000", "strokeWidth": 2},
 "encoding": {"y": {"datum": 246, "type": "quantitative"}}},
{"data": {"values": [{}]},
 "mark": {"type": "rule", "color": "#6b3c0c", "strokeWidth": 4, "strokeDash": [9, 5]},
 "encoding": {"y": {"datum": 244.5, "type": "quantitative"}}},
{"data": {"values": [{}]},
 "mark": {"type": "rule", "color": "#ff4010", "strokeWidth": 4, "strokeDash": [9, 5]},
 "encoding": {"y": {"datum": 244, "type": "quantitative"}}},
{"data": {"name": "levels"},
 "mark": {"type": "line", "strokeCap": "round", "strokeJoin": "round"},
 "encoding": {
  "x": {"field": "day", "type": "quantitative", "scale": {"domain": [0, 365], "nice": false, "zero": false},
    "axis": {"values": [0,10,20,30,40,50,60,70,80,90,100,110,120,130,140,150,160,170,180,190,200,210,220,230,240,250,260,270,280,290,300,310,320,330,340,350,360],
      "labelExpr": "timeFormat(datetime(2020, 0, 1 + datum.value), '%-m/%-d')",
      "title": null, "labelAngle": 90, "labelAlign": "left", "labelBaseline": "middle", "labelFont": "DejaVu Sans Mono", "labelFontSize": 16, "labelColor": "#595959", "labelPadding": 14, "ticks": false, "domain": false, "grid": true, "gridColor": "#d9d9d9", "gridWidth": 1.5, "labelOverlap": false}},
  "y": {"field": "level", "type": "quantitative", "scale": {"domain": [242, 249], "nice": false, "zero": false},
    "axis": {"values": [242,243,244,245,246,247,248,249], "format": ".0f", "title": "(EL.m)", "titleAngle": 0, "titleX": -76, "titleY": -33, "titleAlign": "left", "titleBaseline": "middle", "titleFontSize": 20, "titleFontWeight": "normal", "titleColor": "#000000", "titleFont": "Noto Sans CJK JP", "labelFont": "Noto Sans", "labelFontSize": 17, "labelColor": "#595959", "labelPadding": 26, "ticks": false, "domain": false, "grid": true, "gridColor": "#d9d9d9", "gridWidth": 1.5}},
  "color": {"field": "series", "type": "nominal", "title": null,
    "scale": {"domain": ["基本水位","H24","H29","H30","R1","R2","平均(H3-R3)","R3","R4"], "range": ["#000000","#000000","#2e6b7e","#00b050","#e97a22","#ffc000","#0070c0","#ff66ff","#ff0000"]},
    "legend": {"labelExpr": "(datum.label == 'H29' || datum.label == 'R2' || datum.label == 'R4') ? datum.label + '\u2800\u2800\u2800\u2800\u2800\u2800' : datum.label"}},
  "strokeDash": {"field": "series", "type": "nominal", "title": null,
    "scale": {"domain": ["基本水位","H24","H29","H30","R1","R2","平均(H3-R3)","R3","R4"], "range": [[5,6],[1,0],[1,0],[1,0],[1,0],[1,0],[14,17],[1,0],[1,0]]},
    "legend": {"labelExpr": "(datum.label == 'H29' || datum.label == 'R2' || datum.label == 'R4') ? datum.label + '\u2800\u2800\u2800\u2800\u2800\u2800' : datum.label"}},
  "strokeWidth": {"field": "series", "type": "nominal", "title": null,
    "scale": {"type": "ordinal", "domain": ["基本水位","H24","H29","H30","R1","R2","平均(H3-R3)","R3","R4"], "range": [2.2,2.5,2.8,2.8,2.8,2.8,7,2.8,6]},
    "legend": {"labelExpr": "(datum.label == 'H29' || datum.label == 'R2' || datum.label == 'R4') ? datum.label + '\u2800\u2800\u2800\u2800\u2800\u2800' : datum.label"}}
 }},
{"data": {"values": [{"label": "▽上限水位 EL.249.0m", "level": 249}]},
 "mark": {"type": "text", "align": "left", "baseline": "alphabetic", "dy": -2, "fontSize": 24.5, "color": "#000000"},
 "encoding": {"x": {"datum": 2, "type": "quantitative"}, "y": {"field": "level", "type": "quantitative"}, "text": {"field": "label"}}},
{"data": {"values": [{"label": "▽暫定水位 EL248.5m", "level": 248.5}, {"label": "▽下限水位 EL.246.0m", "level": 246}, {"label": "▽遊覧船運行最低水位水位 EL.244.5m", "level": 244.5}, {"label": "▽異常渇水時利用水位 EL.244.0m", "level": 244}]},
 "mark": {"type": "text", "align": "left", "baseline": "alphabetic", "dy": -6, "fontSize": 24.5, "color": "#000000"},
 "encoding": {"x": {"datum": 2, "type": "quantitative"}, "y": {"field": "level", "type": "quantitative"}, "text": {"field": "label"}}},
{"data": {"values": [{"note": "(田沢湖利用水深EL249.0～EL246.0m)"}]},
 "mark": {"type": "text", "align": "right", "baseline": "alphabetic", "dx": -13, "dy": -13, "fontSize": 23, "color": "#000000"},
 "encoding": {"x": {"datum": 365, "type": "quantitative"}, "y": {"datum": 249, "type": "quantitative"}, "text": {"field": "note"}}},
{"data": {"values": [{}]},
 "mark": {"type": "rect", "fill": "white", "fillOpacity": 0, "stroke": "#ff0000", "strokeWidth": 2.5},
 "encoding": {"x": {"datum": 176.9, "type": "quantitative"}, "x2": {"datum": 216.4}, "y": {"datum": 248.98, "type": "quantitative"}, "y2": {"datum": 248.46}}},
{"data": {"values": [{"line": "R4 6/1 9時", "level": 248.755}, {"line": "EL248.5m", "level": 248.575}]},
 "mark": {"type": "text", "align": "left", "baseline": "alphabetic", "fontSize": 22, "color": "#ff0000", "font": "Noto Sans"},
 "encoding": {"x": {"datum": 181.1, "type": "quantitative"}, "y": {"field": "level", "type": "quantitative"}, "text": {"field": "line"}}},
{"data": {"values": [{}]},
 "mark": {"type": "rule", "color": "#ff0000", "strokeWidth": 3.5},
 "encoding": {"x": {"datum": 176.7, "type": "quantitative"}, "y": {"datum": 248.68, "type": "quantitative"}, "x2": {"datum": 159.0}, "y2": {"datum": 248.585}}},
{"data": {"values": [{}]},
 "mark": {"type": "point", "shape": "triangle-left", "filled": true, "color": "#ff0000", "size": 260, "angle": -9.8, "opacity": 1},
 "encoding": {"x": {"datum": 158.9, "type": "quantitative"}, "y": {"datum": 248.582, "type": "quantitative"}}},
{"data": {"values": [{}]},
 "mark": {"type": "rect", "fill": "white", "stroke": "#2e75b6", "strokeWidth": 1.8},
 "encoding": {"x": {"datum": 328.7, "type": "quantitative"}, "x2": {"datum": 365}, "y": {"datum": 245.75, "type": "quantitative"}, "y2": {"datum": 245.53}}},
{"data": {"values": [{"note": "平均(H3-R2)"}]},
 "mark": {"type": "text", "align": "center", "baseline": "middle", "fontSize": 24, "color": "#000000"},
 "encoding": {"x": {"datum": 346.9, "type": "quantitative"}, "y": {"datum": 245.635, "type": "quantitative"}, "text": {"field": "note"}}},
{"data": {"values": [{}]},
 "mark": {"type": "rule", "color": "#0070c0", "strokeWidth": 3, "strokeDash": [3, 3]},
 "encoding": {"x": {"datum": 328.7, "type": "quantitative"}, "y": {"datum": 245.61, "type": "quantitative"}, "x2": {"datum": 322.5}, "y2": {"datum": 245.49}}},
{"data": {"values": [{}]},
 "mark": {"type": "point", "shape": "triangle-left", "filled": true, "color": "#0070c0", "size": 150, "angle": -29.7, "opacity": 1},
 "encoding": {"x": {"datum": 322.0, "type": "quantitative"}, "y": {"datum": 245.48, "type": "quantitative"}}}
]
}
